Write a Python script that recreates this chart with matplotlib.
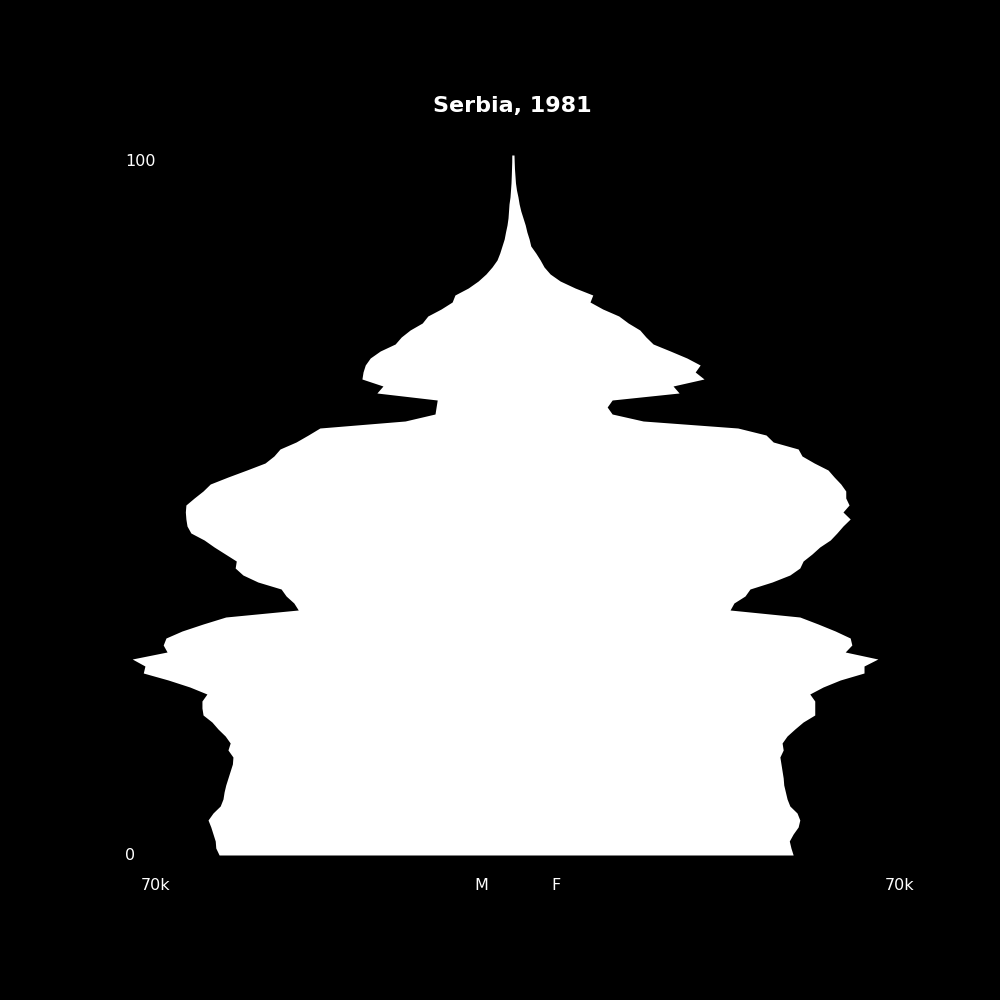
import matplotlib
matplotlib.use('Agg')
import matplotlib.pyplot as plt
import numpy as np

# Serbia 1981 population by single year of age, thousands
ages = np.arange(0, 101)
male = [53.0, 53.6, 53.7, 54.1, 54.5, 55.0, 54.1, 52.8, 52.3, 52.1,
        51.8, 51.4, 51.0, 50.6, 50.5, 51.4, 51.0, 51.9, 53.2, 54.3,
        55.9, 56.1, 56.1, 55.2, 58.3, 62.2, 66.7, 66.4, 68.7, 62.4,
        63.1, 62.6, 59.7, 55.9, 51.8, 38.7, 39.5, 40.9, 41.8, 46.0,
        48.7, 50.1, 49.9, 51.9, 53.9, 55.7, 58.1, 58.8, 59.0, 59.1,
        59.0, 57.5, 55.9, 54.6, 51.4, 48.0, 44.7, 43.1, 42.0, 39.1,
        36.9, 34.8, 19.4, 14.0, 13.8, 13.6, 24.5, 23.4, 27.2, 27.0,
        26.6, 25.7, 23.9, 21.2, 20.1, 18.5, 16.3, 15.3, 12.9, 10.9,
        10.4, 8.0, 6.2, 4.8, 3.7, 2.8, 2.3, 1.9, 1.5, 1.26,
        0.99, 0.81, 0.72, 0.63, 0.45, 0.36, 0.27, 0.22, 0.18, 0.14,
        0.13]
female = [50.7, 50.3, 50.0, 50.7, 51.6, 51.9, 51.4, 50.1, 49.6, 49.3,
          49.0, 48.9, 48.7, 48.5, 48.3, 48.9, 48.7, 49.6, 51.0, 52.5,
          54.6, 54.6, 54.6, 53.7, 56.1, 59.2, 63.5, 63.5, 66.0, 60.1,
          61.3, 61.0, 58.3, 55.2, 51.9, 39.3, 40.0, 42.0, 42.9, 46.9,
          50.1, 51.9, 52.5, 54.1, 55.5, 57.4, 58.6, 59.7, 61.0, 59.7,
          60.8, 60.2, 60.2, 59.3, 58.1, 57.0, 54.5, 52.3, 51.6, 47.1,
          45.8, 40.7, 23.6, 18.0, 17.1, 18.0, 30.1, 29.0, 34.6, 33.0,
          33.9, 31.5, 28.5, 25.4, 24.1, 23.0, 20.9, 19.2, 16.3, 14.0,
          14.5, 11.3, 8.6, 6.8, 5.7, 5.0, 4.2, 3.3, 3.0, 2.6,
          2.3, 1.9, 1.5, 1.2, 0.99, 0.72, 0.54, 0.45, 0.36, 0.31,
          0.27]

xmax = 70

fig = plt.figure(figsize=(10, 10), dpi=100, facecolor='black')
ax = fig.add_subplot(111, facecolor='black')

ax.fill_betweenx(ages, -np.array(male), np.array(female), color='white', lw=0)

ax.set_xlim(-xmax, xmax)
ax.set_ylim(-5, 105)
ax.axis('off')

ax.set_title('Serbia, 1981', color='white', fontsize=16, fontweight='bold')

kw = dict(color='white', fontsize=11.5, va='center')
ax.text(-xmax, 99.0, '100', ha='left', **kw)
ax.text(-xmax, 0.0, '0', ha='left', **kw)
ax.text(-64.4, -4.3, '70k', ha='center', **kw)
ax.text(xmax, -4.3, '70k', ha='center', **kw)
ax.text(-5.7, -4.3, 'M', ha='center', **kw)
ax.text(7.9, -4.3, 'F', ha='center', **kw)

fig.savefig('out.png', facecolor='black')
